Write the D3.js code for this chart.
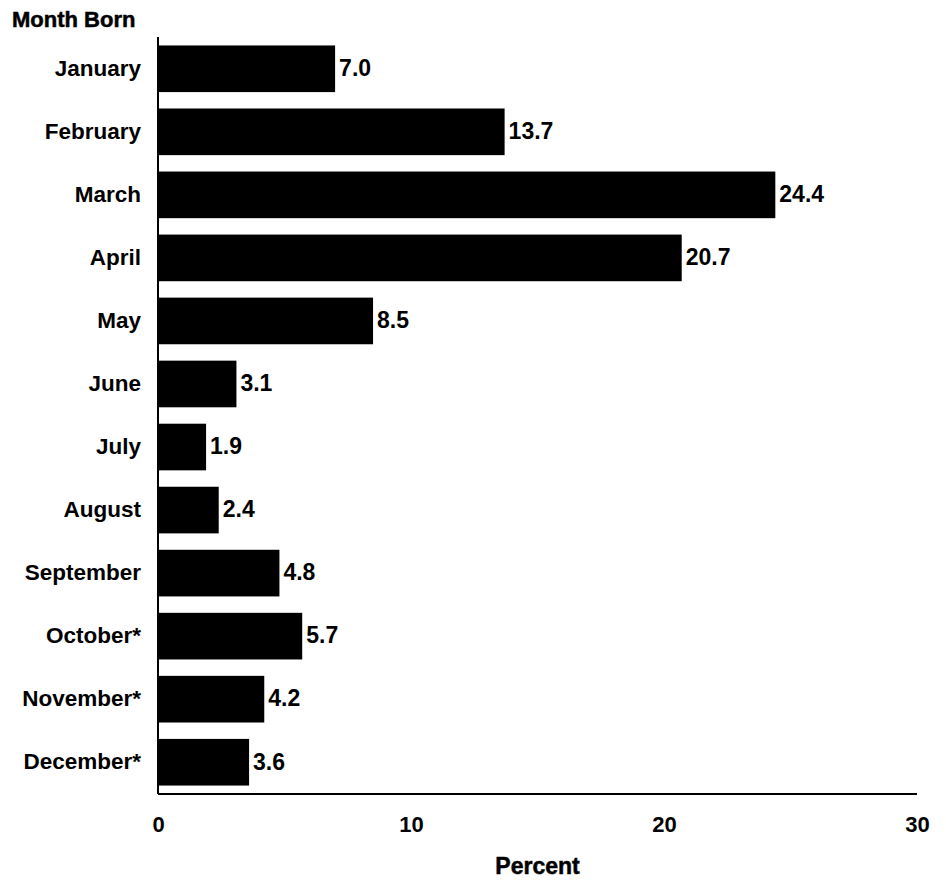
<!DOCTYPE html>
<html>
<head>
<meta charset="utf-8">
<script src="https://cdn.jsdelivr.net/npm/d3@7"></script>
<style>
  html, body { margin: 0; padding: 0; background: #fff; }
  text { font-family: "Liberation Sans", Arial, sans-serif; fill: #000; }
</style>
</head>
<body>
<svg id="chart" width="946" height="882"></svg>
<script>
const months = ["January","February","March","April","May","June","July","August","September","October*","November*","December*"];
const percents = [7.0, 13.7, 24.4, 20.7, 8.5, 3.1, 1.9, 2.4, 4.8, 5.7, 4.2, 3.6];
const xTicks = [0, 10, 20, 30];
const yTitle = "Month Born";
const xTitle = "Percent";

const svg = d3.select("#chart");
const mLeft = 158, mRight = 917, mTop = 37, mBottom = 794;

const x = d3.scaleLinear().domain([0, 30]).range([mLeft, mRight]);
const y = d3.scaleBand().domain(months).range([mTop, mBottom]).paddingInner(0.26).paddingOuter(0.134);

// bars
svg.append("g").selectAll("rect").data(months).join("rect")
  .attr("x", x(0))
  .attr("y", d => y(d))
  .attr("width", (d, i) => x(percents[i]) - x(0))
  .attr("height", y.bandwidth())
  .attr("fill", "#000");

// value labels
svg.append("g").selectAll("text").data(months).join("text")
  .attr("x", (d, i) => x(percents[i]) + 4)
  .attr("y", d => y(d) + y.bandwidth() / 2 - 1)
  .attr("dy", "0.36em")
  .attr("font-size", 23)
  .attr("font-weight", "bold")
  .text((d, i) => percents[i].toFixed(1));

// axes
const xAxis = d3.axisBottom(x).tickValues(xTicks).tickSize(0).tickPadding(22).tickFormat(d3.format("d"));
const gx = svg.append("g").attr("transform", `translate(0,${mBottom})`).call(xAxis);
gx.select(".domain").attr("stroke", "#000").attr("stroke-width", 2).attr("d", `M${mLeft},0H${mRight}`);
gx.selectAll("text").attr("font-size", 22).attr("font-weight", "bold")
  .attr("font-family", "Liberation Sans, Arial, sans-serif").attr("fill", "#000");

const yAxis = d3.axisLeft(y).tickSize(0).tickPadding(17);
const gy = svg.append("g").attr("transform", `translate(${mLeft},0)`).call(yAxis);
gy.select(".domain").attr("stroke", "#000").attr("stroke-width", 2).attr("d", `M0,${mTop}V${mBottom}`);
gy.selectAll("text").attr("font-size", 22.5).attr("font-weight", "bold")
  .attr("font-family", "Liberation Sans, Arial, sans-serif").attr("fill", "#000");

// titles
svg.append("text").attr("x", 12).attr("y", 27)
  .attr("font-size", 22).attr("font-weight", "bold")
  .attr("stroke", "#000").attr("stroke-width", 0.5).text(yTitle);
svg.append("text").attr("x", (mLeft + mRight) / 2).attr("y", 874)
  .attr("text-anchor", "middle").attr("font-size", 23).attr("font-weight", "bold")
  .attr("stroke", "#000").attr("stroke-width", 0.5).text(xTitle);
</script>
</body>
</html>
